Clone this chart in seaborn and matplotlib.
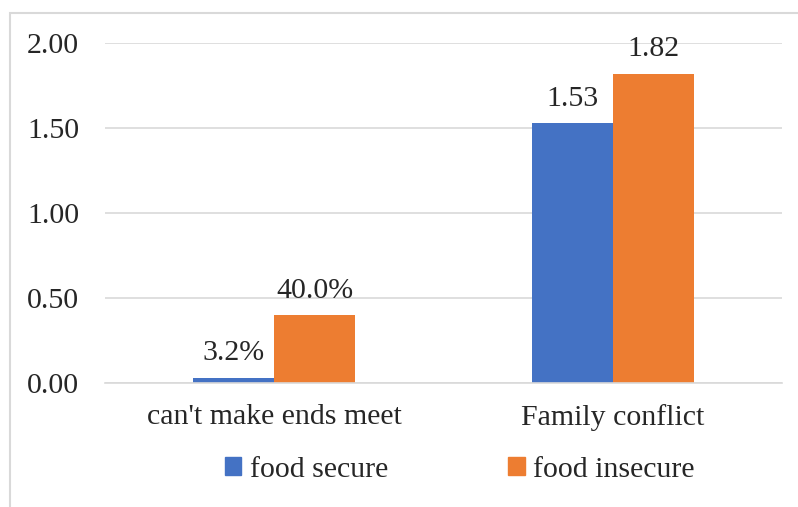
import matplotlib
matplotlib.use("Agg")
import matplotlib.pyplot as plt
import seaborn as sns
import pandas as pd
from matplotlib.patches import Rectangle

categories = ["can't make ends meet", "Family conflict"]
series = ["food secure", "food insecure"]
secure_vals = [0.032, 1.53]
insecure_vals = [0.40, 1.82]
secure_labels = ["3.2%", "1.53"]
insecure_labels = ["40.0%", "1.82"]
yticks = [0.0, 0.5, 1.0, 1.5, 2.0]
ytick_labels = ["0.00", "0.50", "1.00", "1.50", "2.00"]
colors = ["#4472C4", "#ED7D31"]

df = pd.DataFrame({
    "category": categories * 2,
    "series": [series[0]] * 2 + [series[1]] * 2,
    "value": secure_vals + insecure_vals,
})

sns.set_theme(style="white")
plt.rcParams["font.family"] = ["Liberation Serif", "DejaVu Serif"]

FS = 21.5
fig = plt.figure(figsize=(7.98, 5.07), dpi=100)
ax = fig.add_axes([105 / 798, 1 - 383 / 507, (782 - 105) / 798, (383 - 43) / 507])

sns.barplot(data=df, x="category", y="value", hue="series", order=categories,
            hue_order=series, palette=colors, width=0.48, ax=ax,
            saturation=1, legend=False, linewidth=0)

ax.set_xlim(-0.5, 1.5)
ax.set_ylim(0, 2.0)
ax.set_yticks(yticks)
ax.set_yticklabels(ytick_labels)
ax.yaxis.grid(True, color="#D9D9D9", linewidth=1.2)
ax.set_axisbelow(True)
for s in ["top", "right", "left"]:
    ax.spines[s].set_visible(False)
ax.spines["bottom"].set_color("#D9D9D9")
ax.spines["bottom"].set_linewidth(1.2)
ax.tick_params(axis="y", length=0, pad=18.5, labelsize=FS, labelcolor="#262626")
ax.tick_params(axis="x", length=0, pad=15, labelsize=FS, labelcolor="#262626")
ax.set_xlabel("")
ax.set_ylabel("")

labels = [secure_labels, insecure_labels]
for cont, labs in zip(ax.containers, labels):
    ax.bar_label(cont, labels=labs, padding=8, fontsize=FS, color="#262626")

handles = [Rectangle((0, 0), 1, 1, color=c) for c in colors]
fig.legend(handles, series, loc="center", bbox_to_anchor=(460 / 798, 1 - 470 / 507),
           ncol=2, frameon=False, fontsize=FS, handlelength=0.55, handleheight=0.55,
           columnspacing=4.0, handletextpad=0.3, labelcolor="#262626",
           borderpad=0, borderaxespad=0)

fig.patches.append(Rectangle((10 / 798, -0.1), 1.2, 1 - 13 / 507 + 0.1,
                             transform=fig.transFigure, fill=False,
                             edgecolor="#D9D9D9", linewidth=1.5))

fig.savefig("out.png", dpi=100)
